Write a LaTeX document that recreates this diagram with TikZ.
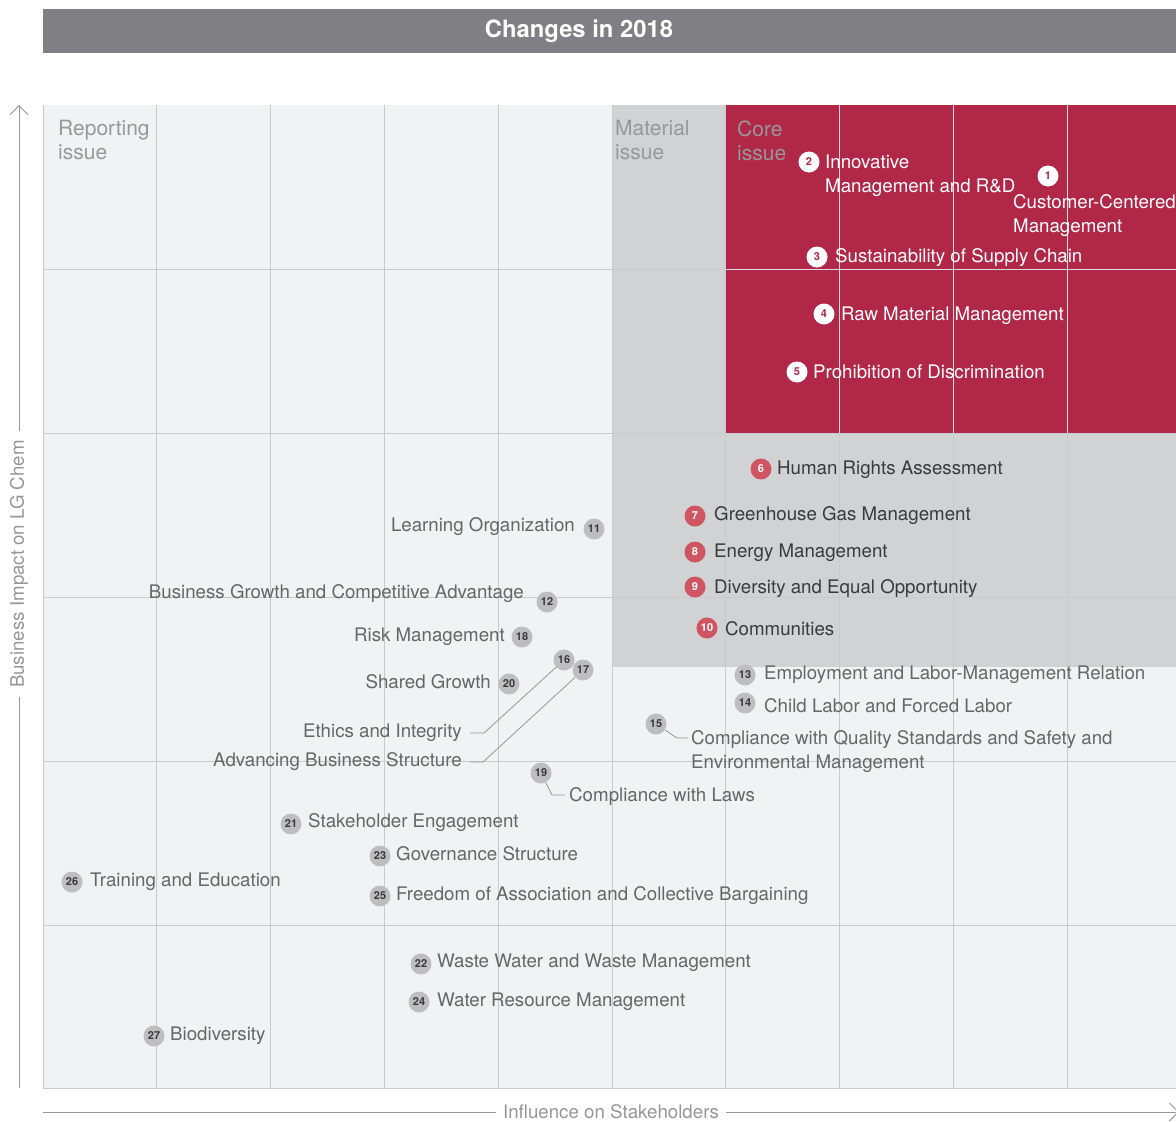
\documentclass[tikz,border=0pt]{standalone}
\usepackage{fontspec}
\setmainfont{TeX Gyre Heros}
\usetikzlibrary{arrows.meta}
\definecolor{barGrey}{RGB}{128,128,132}
\definecolor{paneLight}{RGB}{241,242,244}
\definecolor{paneGrey}{RGB}{209,210,212}
\definecolor{coreRed}{RGB}{176,39,72}
\definecolor{dotRed}{RGB}{208,85,98}
\definecolor{dotGrey}{RGB}{190,190,193}
\definecolor{gridGrey}{RGB}{201,202,205}
\definecolor{sectGrey}{RGB}{152,152,154}
\definecolor{darkText}{RGB}{58,58,60}
\definecolor{softText}{RGB}{102,102,104}
\definecolor{axisGrey}{RGB}{150,150,152}
\newcommand\itemfont{\fontsize{18.7}{24}\selectfont}
\newcommand\sectfont{\fontsize{21}{24}\selectfont}
\newcommand\numfont{\fontsize{11}{11}\selectfont\bfseries}

\begin{document}
\begin{tikzpicture}[x=1pt,y=-1pt,
	every node/.style={inner sep=0pt},
	dot/.style={circle,minimum size=21pt,font=\numfont},
	coredot/.style={dot,fill=white,text=coreRed},
	matdot/.style={dot,fill=dotRed,text=white},
	repdot/.style={dot,fill=dotGrey,text=darkText},
	lbl/.style={anchor=base west,yshift=-6.6pt,font=\itemfont},
	lblr/.style={lbl,anchor=base east},
	lblm/.style={anchor=north west,yshift=6.8pt,font=\itemfont,align=left},
	sect/.style={anchor=north west,yshift=7.6pt,font=\sectfont,align=left,text=sectGrey},
	gridline/.style={draw=gridGrey,line width=1pt},
	leader/.style={draw=axisGrey,line width=0.8pt},
	axis/.style={draw=axisGrey,line width=1pt}]
	\useasboundingbox (0,0) rectangle (1176,1122);
	\clip (0,0) rectangle (1176,1122);
	\fill [barGrey] (43,9) rectangle (1180,53);
	\node [font=\fontsize{23.8}{24}\selectfont\bfseries,text=white] (title) at (579,31) {Changes in 2018};
	\fill [paneLight] (43,105) rectangle (1180,1088);
	\fill [paneGrey] (612,105) rectangle (1180,667);
	\fill [coreRed] (725.8,105) rectangle (1180,433);
	\foreach \gx in {156.8,270.6,384.4,498.2,612,725.8,839.6,953.4,1067.2}
		\draw [gridline] (\gx,105) -- (\gx,1088);
	\foreach \gy in {269,433,597,761,925}
		\draw [gridline] (43,\gy) -- (1180,\gy);
	\begin{scope}
		\clip (726.3,105) rectangle (1180,432.5);
		\foreach \gx in {839.6,953.4,1067.2}
			\draw [white,opacity=0.35,line width=1pt] (\gx,105) -- (\gx,433);
		\draw [white,opacity=0.35,line width=1pt] (725.8,269) -- (1180,269);
	\end{scope}
	\draw [gridline] (43,105) -- (43,1088) -- (1180,1088);
	\node [sect] (rep) at (58,128) {Reporting\\issue};
	\node [sect] (mat) at (615,128) {Material\\issue};
	\node [sect] (core) at (737,128) {Core\\issue};
	\coordinate (ybot) at (19,1088);
	\coordinate (ytop) at (19,105);
	\node [rotate=90,font=\itemfont,text=axisGrey] (ylab) at (19,564) {Business Impact on LG Chem};
	\draw [axis,shorten >=9pt] (ybot) -- (ylab.west);
	\draw [axis,shorten <=9pt,-{Straight Barb[length=9pt,width=18pt]}] (ylab.east) -- (ytop);
	\coordinate (xleft) at (43,1112);
	\coordinate (xright) at (1179,1112);
	\node [font=\itemfont,text=axisGrey] (xlab) at (611,1112) {Influence on Stakeholders};
	\draw [axis,shorten >=7pt] (xleft) -- (xlab.west);
	\draw [axis,shorten <=7pt,-{Straight Barb[length=9pt,width=18pt]}] (xlab.east) -- (xright);
	\node [coredot] (d1) at (1048,176) {1};
	\node [lblm,text=white] (t1) at (1013,201) {Customer-Centered\\Management};
	\node [coredot] (d2) at (809,162) {2};
	\node [lblm,text=white] (t2) at (825,161) {Innovative\\Management and R\&D};
	\node [coredot] (d3) at (817,257) {3};
	\node [lbl,text=white] (t3) at (835,256) {Sustainability of Supply Chain};
	\node [coredot] (d4) at (824,314) {4};
	\node [lbl,text=white] (t4) at (841,314) {Raw Material Management};
	\node [coredot] (d5) at (797,372) {5};
	\node [lbl,text=white] (t5) at (813,372) {Prohibition of Discrimination};
	\node [matdot] (d6) at (761,469) {6};
	\node [lbl,text=darkText] (t6) at (777,468) {Human Rights Assessment};
	\node [matdot] (d7) at (695,516) {7};
	\node [lbl,text=darkText] (t7) at (714,514) {Greenhouse Gas Management};
	\node [matdot] (d8) at (695,552) {8};
	\node [lbl,text=darkText] (t8) at (714,551) {Energy Management};
	\node [matdot] (d9) at (695,587) {9};
	\node [lbl,text=darkText] (t9) at (714,587) {Diversity and Equal Opportunity};
	\node [matdot] (d10) at (707,628) {10};
	\node [lbl,text=darkText] (t10) at (725,629) {Communities};
	\node [repdot] (d11) at (594,529) {11};
	\node [lblr,text=softText] (t11) at (575,525) {Learning Organization};
	\node [repdot] (d12) at (547,602) {12};
	\node [lblr,text=softText] (t12) at (524,592) {Business Growth and Competitive Advantage};
	\node [repdot] (d13) at (745,675) {13};
	\node [lbl,text=softText] (t13) at (764,673) {Employment and Labor-Management Relation};
	\node [repdot] (d14) at (745,703) {14};
	\node [lbl,text=softText] (t14) at (764,706) {Child Labor and Forced Labor};
	\node [repdot] (d15) at (656,724) {15};
	\node [lblm,text=softText] (t15) at (691,737) {Compliance with Quality Standards and Safety and\\Environmental Management};
	\coordinate (k15) at (677,738);
	\coordinate (e15) at (688,738);
	\draw [leader] (d15) -- (k15) -- (e15);
	\node [repdot] (d16) at (564,660) {16};
	\node [lblr,text=softText] (t16) at (462,731) {Ethics and Integrity};
	\coordinate (k16) at (484,733);
	\coordinate (e16) at (470,733);
	\draw [leader] (d16) -- (k16) -- (e16);
	\node [repdot] (d17) at (583,670) {17};
	\node [lblr,text=softText] (t17) at (462,760) {Advancing Business Structure};
	\coordinate (k17) at (483,762);
	\coordinate (e17) at (470,762);
	\draw [leader] (d17) -- (k17) -- (e17);
	\node [repdot] (d18) at (522,637) {18};
	\node [lblr,text=softText] (t18) at (505,635) {Risk Management};
	\node [repdot] (d19) at (541,773) {19};
	\node [lbl,text=softText] (t19) at (569,795) {Compliance with Laws};
	\coordinate (k19) at (552,795);
	\coordinate (e19) at (565,795);
	\draw [leader] (d19) -- (k19) -- (e19);
	\node [repdot] (d20) at (509,684) {20};
	\node [lblr,text=softText] (t20) at (491,682) {Shared Growth};
	\node [repdot] (d21) at (291,824) {21};
	\node [lbl,text=softText] (t21) at (308,821) {Stakeholder Engagement};
	\node [repdot] (d22) at (421,964) {22};
	\node [lbl,text=softText] (t22) at (437,961) {Waste Water and Waste Management};
	\node [repdot] (d23) at (380,856) {23};
	\node [lbl,text=softText] (t23) at (396,854) {Governance Structure};
	\node [repdot] (d24) at (419,1002) {24};
	\node [lbl,text=softText] (t24) at (437,1000) {Water Resource Management};
	\node [repdot] (d25) at (380,896) {25};
	\node [lbl,text=softText] (t25) at (396,894) {Freedom of Association and Collective Bargaining};
	\node [repdot] (d26) at (72,882) {26};
	\node [lbl,text=softText] (t26) at (90,880) {Training and Education};
	\node [repdot] (d27) at (154,1036) {27};
	\node [lbl,text=softText] (t27) at (170,1034) {Biodiversity};
\end{tikzpicture}
\end{document}
